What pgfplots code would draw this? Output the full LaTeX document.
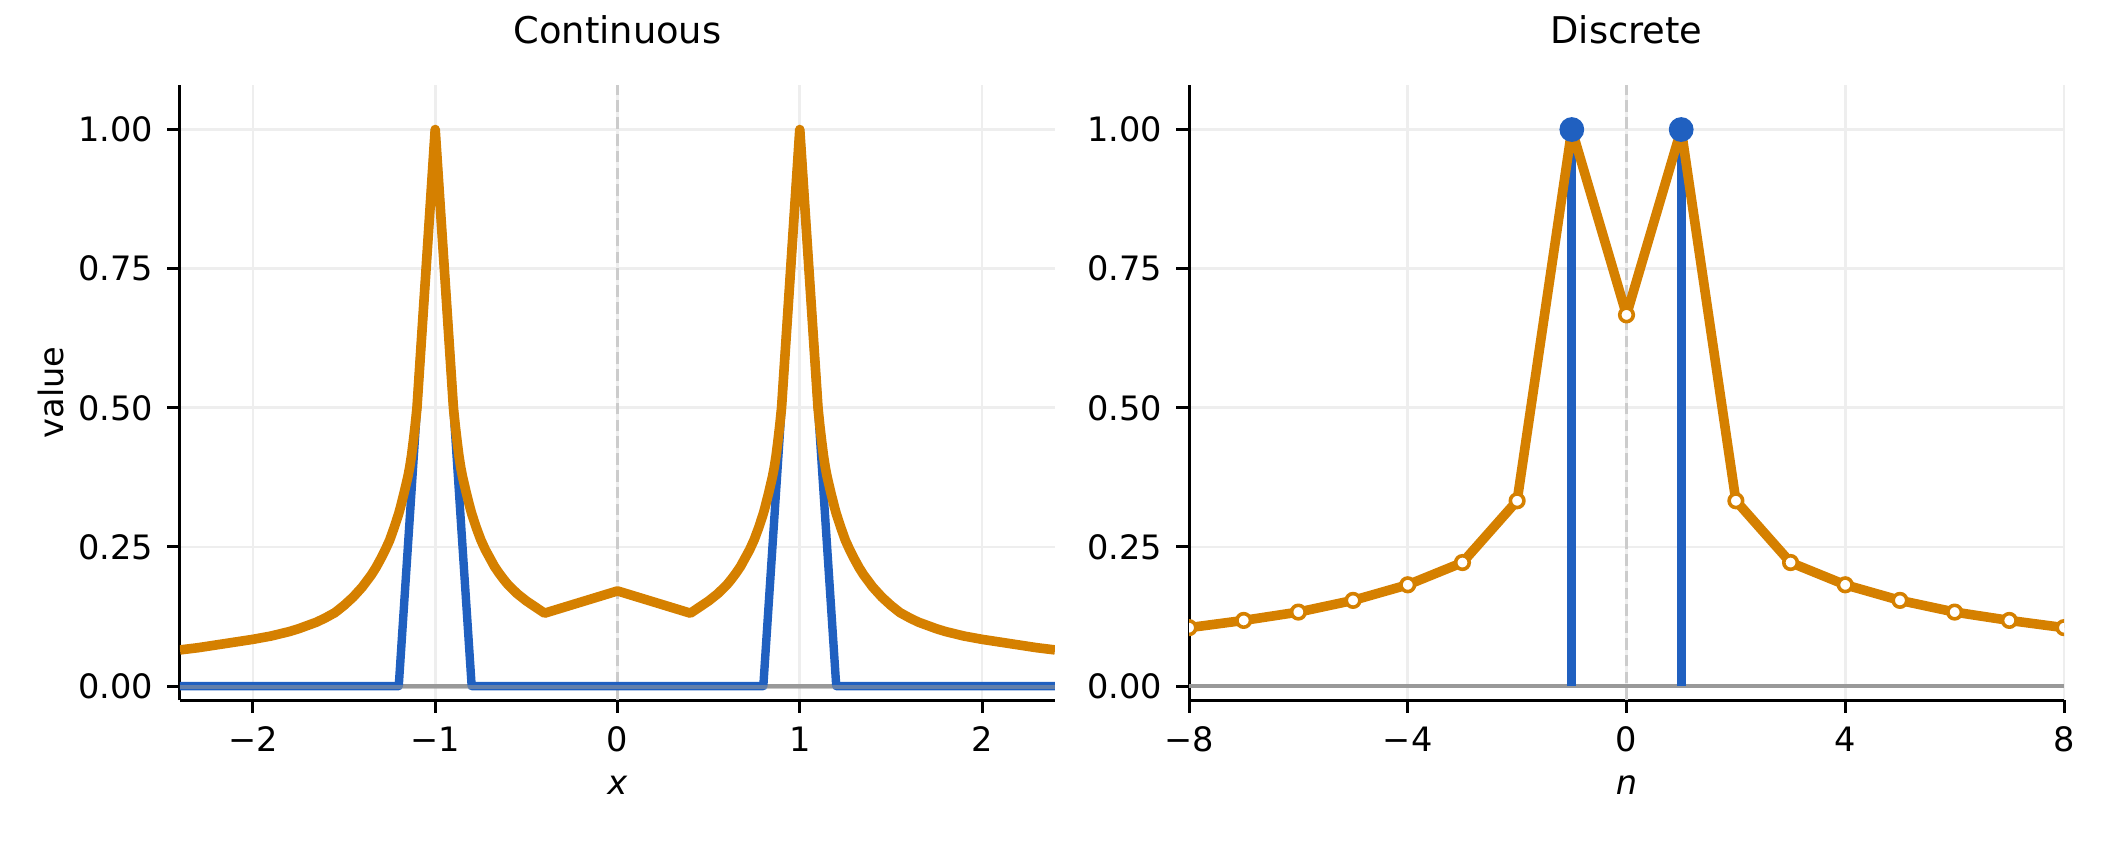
\documentclass[border=0pt]{standalone}
\usepackage{fontspec}
\setmainfont{DejaVu Sans}
\usepackage{pgfplots}
\pgfplotsset{compat=1.18}
\definecolor{cblue}{RGB}{32,96,192}
\definecolor{corange}{RGB}{213,128,0}
\definecolor{gridc}{RGB}{238,238,238}
\definecolor{zeroc}{RGB}{153,153,153}
\definecolor{dashc}{RGB}{204,204,204}
\pgfplotsset{
  common/.style={
    width=218.75pt, height=153.75pt, scale only axis,
    anchor=south west,
    ymin=-0.025, ymax=1.08,
    ytick={0,0.25,0.5,0.75,1},
    yticklabels={0.00,0.25,0.50,0.75,1.00},
    axis x line*=bottom, axis y line*=left,
    axis line style={-, line width=0.75pt, black},
    tick align=outside,
    major tick length=3.2pt,
    every tick/.style={black, line width=0.75pt},
    tick label style={font=\fontsize{8.4}{10}\selectfont},
    label style={font=\fontsize{8.4}{10}\selectfont},
    /pgf/number format/assume math mode=true,
    grid=major,
    major grid style={gridc, line width=0.7pt},
    title style={font=\fontsize{9.2}{11}\selectfont, at={(axis description cs:0.5,1.0504)}, anchor=center},
    xlabel style={at={(axis description cs:0.5,-0.1382)}, anchor=center},
    clip marker paths=true,
  },
  dashl/.style={dashc, line width=0.7pt, dash pattern=on 2.9pt off 1.3pt, forget plot},
  zerol/.style={zeroc, line width=0.9pt, forget plot},
}
\begin{document}
\begin{tikzpicture}
\path[use as bounding box] (0,0) rectangle (528pt,210pt);
% ---------------- Continuous ----------------
\begin{axis}[common, at={(45pt,35pt)},
  title={Continuous},
  xmin=-2.4, xmax=2.4,
  xtick={-2,-1,0,1,2}, xticklabels={−2,−1,0,1,2},
  xlabel={\textit{x}}, ylabel={value},
  ylabel style={at={(axis description cs:-0.1474,0.5)}, anchor=center},
]
\addplot[dashl] coordinates {(0,-0.025) (0,1.08)};
\addplot[zerol] coordinates {(-2.4,0) (2.4,0)};
\addplot[cblue, line width=2.1pt, line join=round] coordinates {
(-2.4,0) (-1.2,0) (-1,1) (-0.8,0) (0.8,0) (1,1) (1.2,0) (2.4,0)};
\addplot[zeroc, line width=0.9pt, opacity=0.55, forget plot] coordinates {(-2.4,-0.002) (2.4,-0.002)};
\addplot[corange, line width=2.4pt, line join=round] coordinates {
(-2.4,0.065) (-2.3,0.069) (-2.2,0.074) (-2.1,0.079) (-2.0,0.084) (-1.9,0.090)
(-1.8,0.098) (-1.75,0.103) (-1.7,0.109) (-1.65,0.115) (-1.6,0.123) (-1.55,0.132)
(-1.5,0.145) (-1.45,0.160) (-1.4,0.178) (-1.375,0.189) (-1.35,0.200) (-1.325,0.213)
(-1.3,0.228) (-1.275,0.244) (-1.25,0.262) (-1.225,0.285) (-1.2,0.310) (-1.19,0.322)
(-1.18,0.335) (-1.17,0.348) (-1.16,0.362) (-1.15,0.376) (-1.14,0.393) (-1.13,0.414)
(-1.12,0.440) (-1.11,0.468) (-1.10,0.500) (-1.05,0.750) (-1.0,1.0)
(-0.95,0.750) (-0.90,0.500) (-0.89,0.468) (-0.88,0.440) (-0.87,0.414) (-0.86,0.393)
(-0.85,0.376) (-0.84,0.362) (-0.83,0.348) (-0.82,0.335) (-0.81,0.322) (-0.80,0.310)
(-0.775,0.285) (-0.75,0.263) (-0.725,0.245) (-0.70,0.230) (-0.675,0.215) (-0.65,0.203)
(-0.625,0.192) (-0.60,0.182) (-0.55,0.166) (-0.50,0.153) (-0.45,0.142) (-0.40,0.131)
(-0.30,0.141) (-0.20,0.151) (-0.10,0.161) (0,0.171)
(0.10,0.161) (0.20,0.151) (0.30,0.141) (0.40,0.131) (0.45,0.142) (0.50,0.153)
(0.55,0.166) (0.60,0.182) (0.625,0.192) (0.65,0.203) (0.675,0.215) (0.70,0.230)
(0.725,0.245) (0.75,0.263) (0.775,0.285) (0.80,0.310) (0.81,0.322) (0.82,0.335)
(0.83,0.348) (0.84,0.362) (0.85,0.376) (0.86,0.393) (0.87,0.414) (0.88,0.440)
(0.89,0.468) (0.90,0.500) (0.95,0.750) (1.0,1.0)
(1.05,0.750) (1.10,0.500) (1.11,0.468) (1.12,0.440) (1.13,0.414) (1.14,0.393)
(1.15,0.376) (1.16,0.362) (1.17,0.348) (1.18,0.335) (1.19,0.322) (1.2,0.310)
(1.225,0.285) (1.25,0.262) (1.275,0.244) (1.3,0.228) (1.325,0.213) (1.35,0.200)
(1.375,0.189) (1.4,0.178) (1.45,0.160) (1.5,0.145) (1.55,0.132) (1.6,0.123)
(1.65,0.115) (1.7,0.109) (1.75,0.103) (1.8,0.098) (1.9,0.090) (2.0,0.084)
(2.1,0.079) (2.2,0.074) (2.3,0.069) (2.4,0.065)};
\end{axis}
% ---------------- Discrete ----------------
\begin{axis}[common, at={(297.25pt,35pt)},
  title={Discrete},
  xmin=-8, xmax=8,
  xtick={-8,-4,0,4,8}, xticklabels={−8,−4,0,4,8},
  xlabel={\textit{n}},
]
\addplot[dashl] coordinates {(0,-0.025) (0,1.08)};
\addplot[zerol] coordinates {(-8,0) (8,0)};
\addplot[ycomb, cblue, line width=2.2pt, mark=none] coordinates {(-1,1) (1,1)};
\addplot[corange, line width=2.4pt, line join=round, mark=*, mark size=1.7pt,
  mark options={fill=white, draw=corange, line width=0.9pt}] coordinates {
(-8,0.105) (-7,0.118) (-6,0.133) (-5,0.154) (-4,0.182) (-3,0.222) (-2,0.333)
(-1,1.0) (0,0.667) (1,1.0) (2,0.333) (3,0.222) (4,0.182) (5,0.154) (6,0.133)
(7,0.118) (8,0.105)};
\addplot[only marks, mark=*, mark size=2.9pt, cblue] coordinates {(-1,1) (1,1)};
\end{axis}
\end{tikzpicture}
\end{document}
